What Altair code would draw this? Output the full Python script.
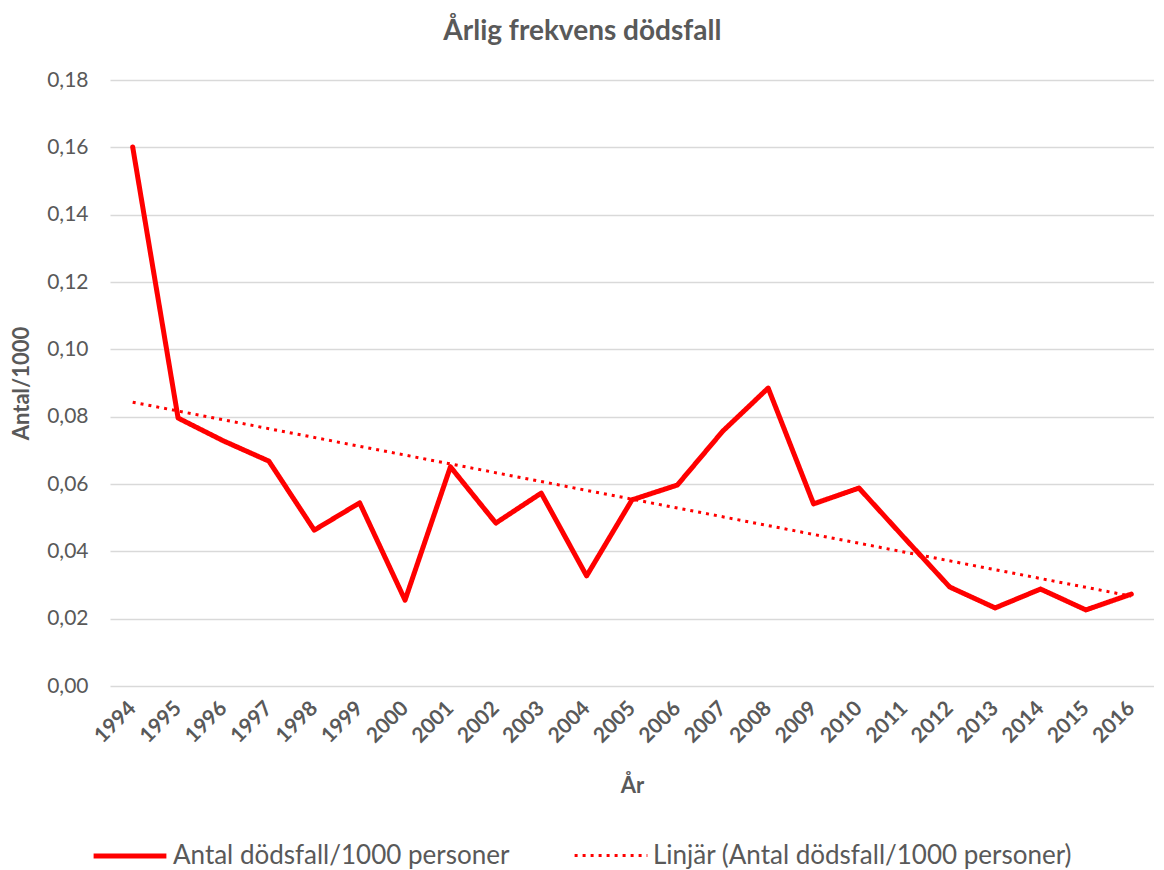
import altair as alt
import pandas as pd

years = list(range(1994, 2017))
rates = [0.1601, 0.0796, 0.0728, 0.0668, 0.0463, 0.0544, 0.0255, 0.0651, 0.0484,
         0.0573, 0.0327, 0.0553, 0.0597, 0.0757, 0.0885, 0.0541, 0.0588, 0.0440,
         0.0294, 0.0232, 0.0288, 0.0226, 0.0273]
y_ticks = [0, 0.02, 0.04, 0.06, 0.08, 0.10, 0.12, 0.14, 0.16, 0.18]

series_main = "Antal dödsfall/1000 personer"
series_trend = "Linjär (Antal dödsfall/1000 personer)"

df = pd.DataFrame({"year": years, "rate": rates, "series": series_main})

FONT = "Lato"
GREY = "#595959"
RED = "#ff0000"
domain = [series_main, series_trend]

legend = alt.Legend(
    orient="none", legendX=-19, legendY=737, direction="horizontal", title=None,
    symbolType="stroke", symbolSize=5300, labelFontSize=26, labelColor=GREY,
    labelFont=FONT, columnPadding=58, labelOffset=4, symbolStrokeColor=RED,
    labelLimit=600,
)

x = alt.X(
    "year:O",
    scale=alt.Scale(type="point", padding=0.5),
    axis=alt.Axis(
        title="År", titleFont=FONT, titleFontSize=22, titleFontWeight="bold",
        titleColor=GREY, titlePadding=29, labelAngle=-45, labelFont=FONT,
        labelFontSize=21, labelFontWeight="bold", labelColor=GREY, domain=False,
        ticks=False, labelPadding=11, labelOffset=-8,
    ),
)
y = alt.Y(
    "rate:Q",
    scale=alt.Scale(domain=[0, 0.18], nice=False),
    axis=alt.Axis(
        title="Antal/1000", titleFont=FONT, titleFontSize=22, titleFontWeight="bold",
        titleColor=GREY, titlePadding=13, values=y_ticks,
        labelExpr="replace(format(datum.value, '.2f'), '.', ',')",
        labelFont=FONT, labelFontSize=21, labelColor=GREY, labelPadding=22,
        domain=False, ticks=False, gridColor="#d9d9d9", gridWidth=1.5,
    ),
)
color = alt.Color("series:N", scale=alt.Scale(domain=domain, range=[RED, RED]), legend=legend)
dash = alt.StrokeDash("series:N", scale=alt.Scale(domain=domain, range=[[1, 0], [3, 5]]), legend=legend)
sw = alt.StrokeWidth("series:N", scale=alt.Scale(domain=domain, range=[5, 3]), legend=legend)

base = alt.Chart(df)
main = base.mark_line(strokeJoin="round", strokeCap="round").encode(
    x=x, y=y, color=color, strokeDash=dash, strokeWidth=sw
)
trend = base.transform_regression("year", "rate").transform_calculate(
    series=f"'{series_trend}'"
).mark_line().encode(x=x, y=y, color=color, strokeDash=dash, strokeWidth=sw)

chart = alt.layer(trend, main).properties(
    width=1044, height=606,
    padding={"left": 2, "top": 10, "right": 0, "bottom": 0},
    title=alt.Title("Årlig frekvens dödsfall", font=FONT, fontSize=28, fontWeight="bold",
                    color=GREY, offset=23, anchor="middle", frame="bounds"),
).configure_view(stroke=None)

chart.save("out.html", embed_options={"renderer": "svg", "actions": False})
